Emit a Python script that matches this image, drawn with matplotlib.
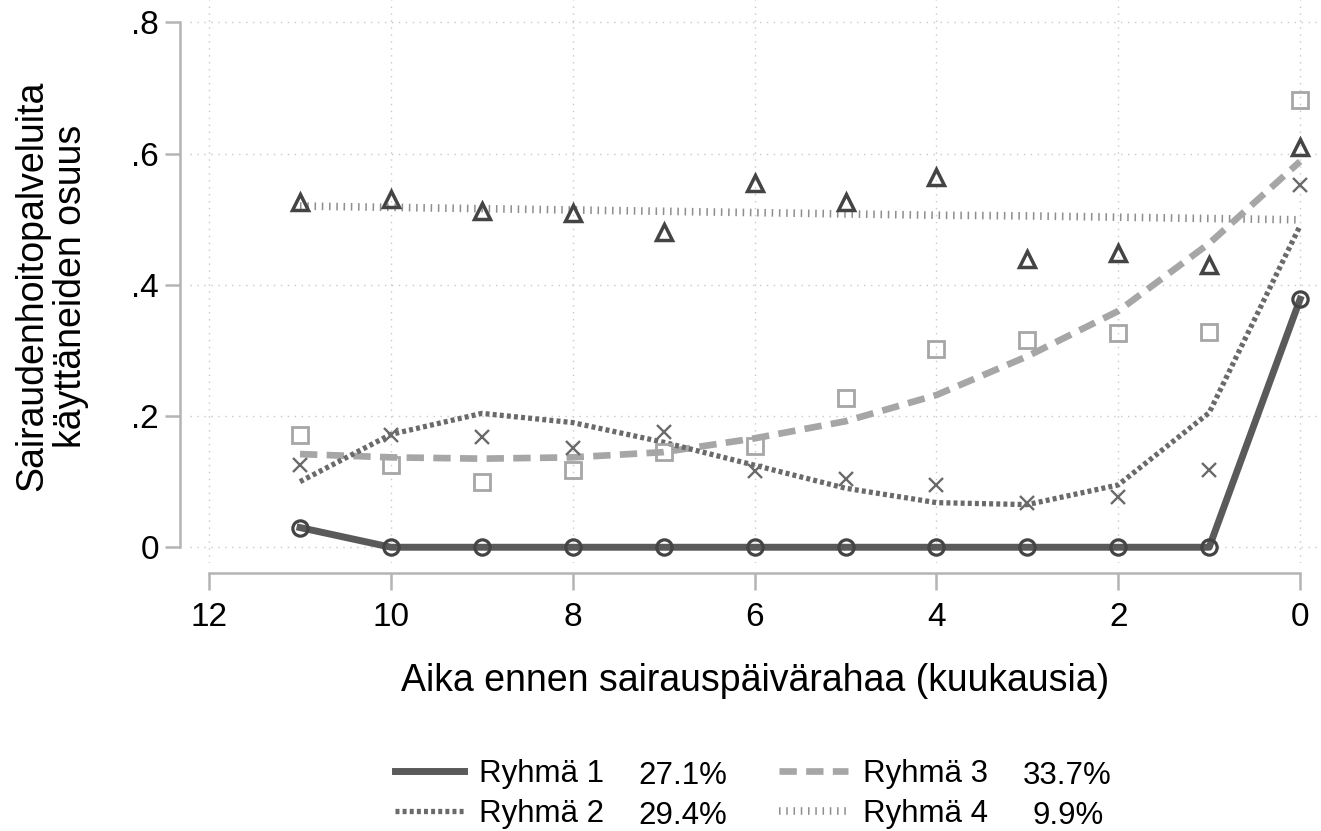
import numpy as np
import matplotlib
matplotlib.use("Agg")
import matplotlib.pyplot as plt
from matplotlib.lines import Line2D

plt.rcParams['font.family'] = ['Liberation Sans', 'DejaVu Sans']

# months before sickness allowance
months = [11, 10, 9, 8, 7, 6, 5, 4, 3, 2, 1, 0]

# observed shares (markers)
g1_obs = [0.030, 0, 0, 0, 0, 0, 0, 0, 0, 0, 0, 0.378]
g2_obs = [0.125, 0.171, 0.168, 0.151, 0.175, 0.116, 0.104, 0.095, 0.067, 0.076, 0.117, 0.552]
g3_obs = [0.171, 0.125, 0.099, 0.117, 0.145, 0.155, 0.227, 0.302, 0.316, 0.326, 0.328, 0.682]
g4_obs = [0.526, 0.530, 0.512, 0.510, 0.480, 0.555, 0.526, 0.564, 0.440, 0.449, 0.430, 0.610]

# fitted trajectories (lines)
g2_fit = [0.100, 0.172, 0.204, 0.190, 0.160, 0.125, 0.090, 0.068, 0.065, 0.095, 0.205, 0.490]
g3_fit = [0.142, 0.137, 0.135, 0.137, 0.145, 0.166, 0.192, 0.232, 0.291, 0.360, 0.463, 0.588]
g4_fit = [0.520, 0.518, 0.516, 0.514, 0.512, 0.510, 0.508, 0.506, 0.505, 0.503, 0.501, 0.499]

groups = ['Ryhmä 1', 'Ryhmä 2', 'Ryhmä 3', 'Ryhmä 4']
shares = ['27.1%', '29.4%', '33.7%', '9.9%']

xticks = [12, 10, 8, 6, 4, 2, 0]
yticks = [0, 0.2, 0.4, 0.6, 0.8]
ytick_labels = ['0', '.2', '.4', '.6', '.8']

W, H = 1321, 831
fig = plt.figure(figsize=(W / 100, H / 100), dpi=100)
ax = fig.add_axes([190 / W, 1 - 563 / H, (W - 190) / W, 563 / H])
ax.set_xlim(12.21, -0.23)
ax.set_ylim(-0.024, 0.834)

c1 = '#5a5a5a'
c2 = '#6a6a6a'
c3 = '#a6a6a6'
c4 = '#8e8e8e'
cm = '#444444'

ls2 = (0, (0.75, 0.6))
ls3 = (0, (2.6, 1.4))
ls4 = (0, (0.2, 0.75))

ax.grid(True, color='#c8c8c8', linestyle=(0, (1, 4)), linewidth=1.0)
ax.set_axisbelow(True)

# group 4
ax.plot(months, g4_fit, color=c4, lw=5.5, ls=ls4, zorder=3)
ax.plot(months, g4_obs, ls='none', marker='^', ms=11.5, mfc='none', mec=cm, mew=2.5, zorder=4)
# group 3
ax.plot(months, g3_fit, color=c3, lw=4.8, ls=ls3, zorder=3)
ax.plot(months, g3_obs, ls='none', marker='s', ms=11, mfc='none', mec=c3, mew=2.0, zorder=4)
# group 2
ax.plot(months, g2_fit, color=c2, lw=3.8, ls=ls2, zorder=3)
ax.plot(months, g2_obs, ls='none', marker='x', ms=10.5, mec=c2, mew=1.7, zorder=4)
# group 1
ax.plot(months, g1_obs, color=c1, lw=5, marker='o', ms=11, mfc='none', mec=cm, mew=2.3, zorder=5)

for s in ['top', 'right']:
    ax.spines[s].set_visible(False)
for s in ['left', 'bottom']:
    ax.spines[s].set_color('#b4b4b4')
    ax.spines[s].set_linewidth(1.8)
    ax.spines[s].set_position(('outward', 7))
ax.spines['left'].set_bounds(0, 0.8)
ax.spines['bottom'].set_bounds(12, 0)

ax.set_xticks(xticks)
ax.set_xticklabels([str(t) for t in xticks])
ax.set_yticks(yticks)
ax.set_yticklabels(ytick_labels)
ax.tick_params(axis='y', length=10.5, width=1.8, color='#b4b4b4', pad=5, labelsize=24)
ax.tick_params(axis='x', length=12, width=1.8, color='#b4b4b4', pad=9, labelsize=24)

ax.set_xlabel('Aika ennen sairauspäivärahaa (kuukausia)', fontsize=27, labelpad=22)
fig.text(52 / W, 1 - 286 / H, 'Sairaudenhoitopalveluita\nkäyttäneiden osuus',
         rotation=90, ha='center', va='center', fontsize=27, linespacing=1.1)

handles = [
    Line2D([], [], color=c1, lw=5),
    Line2D([], [], color=c2, lw=3.8, ls=ls2),
    Line2D([], [], color=c3, lw=4.8, ls=ls3),
    Line2D([], [], color=c4, lw=5.5, ls=ls4),
]
fig.legend(handles, groups, ncol=2, loc='upper left', frameon=False,
           bbox_to_anchor=(395 / W, 1 - 759 / H), fontsize=22.5,
           handlelength=2.2, handletextpad=0.48, columnspacing=5.6,
           labelspacing=0.32, borderpad=0, borderaxespad=0)

pct_x = [638, 638, 1023, 1032]
pct_y = [784, 824, 784, 824]
for p, px, py in zip(shares, pct_x, pct_y):
    fig.text(px / W, 1 - py / H, p, ha='left', va='baseline', fontsize=22.5)

fig.savefig('out.png', dpi=100)
